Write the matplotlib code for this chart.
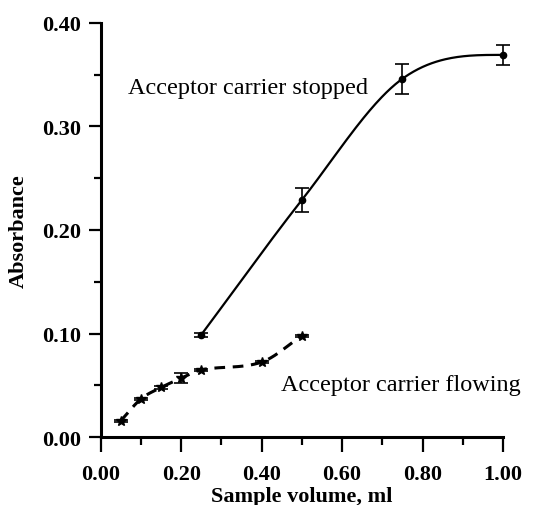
import numpy as np
import matplotlib
matplotlib.use('Agg')
from matplotlib import pyplot as plt
from matplotlib.ticker import MultipleLocator

# data
stop_x = [0.25, 0.50, 0.75, 1.00]
stop_y = [0.099, 0.229, 0.346, 0.369]
stop_err = [0.002, 0.012, 0.0145, 0.010]

flow_x = [0.05, 0.10, 0.15, 0.20, 0.25, 0.40, 0.50]
flow_y = [0.016, 0.037, 0.048, 0.057, 0.065, 0.0725, 0.098]
flow_err = [0.001, 0.001, 0.001, 0.0045, 0.001, 0.001, 0.001]

xticks = [0.0, 0.2, 0.4, 0.6, 0.8, 1.0]
yticks = [0.0, 0.1, 0.2, 0.3, 0.4]


def smooth(x, y, end_slope=None, n=200):
    # catmull-rom style hermite curve through the points (drawing only)
    x = np.asarray(x, float)
    y = np.asarray(y, float)
    h = np.diff(x)
    d = np.diff(y) / h
    m = np.zeros_like(y)
    m[0], m[-1] = d[0], d[-1]
    for i in range(1, len(x) - 1):
        m[i] = (y[i + 1] - y[i - 1]) / (x[i + 1] - x[i - 1])
    if end_slope is not None:
        m[-1] = end_slope
    xs = np.linspace(x[0], x[-1], n)
    k = np.clip(np.searchsorted(x, xs) - 1, 0, len(x) - 2)
    t = (xs - x[k]) / h[k]
    h00 = 2 * t**3 - 3 * t**2 + 1
    h10 = t**3 - 2 * t**2 + t
    h01 = -2 * t**3 + 3 * t**2
    h11 = t**3 - t**2
    ys = h00 * y[k] + h10 * h[k] * m[k] + h01 * y[k + 1] + h11 * h[k] * m[k + 1]
    return xs, ys


plt.rcParams['font.family'] = ['Liberation Serif', 'DejaVu Serif']

fig = plt.figure(figsize=(5.42, 5.06), dpi=100)
ax = fig.add_axes([0.186, 0.134, 0.742, 0.819])

sx, sy = smooth(stop_x, stop_y, end_slope=0.0)
ax.plot(sx, sy, color='black', lw=1.6, clip_on=False)
ax.errorbar(stop_x, stop_y, yerr=stop_err, fmt='o', color='black', ms=4.5,
            capsize=5, elinewidth=1.2, capthick=1.2, clip_on=False)

fx, fy = smooth(flow_x, flow_y)
ax.plot(fx, fy, color='black', lw=2.2, dashes=(3.5, 2.5), clip_on=False)
ax.errorbar(flow_x, flow_y, yerr=flow_err, fmt='*', color='black', ms=7,
            capsize=5, elinewidth=1.2, capthick=1.2, clip_on=False)

ax.text(0.067, 0.338, 'Acceptor carrier stopped', fontsize=17.5, va='center')
ax.text(0.448, 0.051, 'Acceptor carrier flowing', fontsize=17.5, va='center')

ax.set_xlim(0, 1.0)
ax.set_ylim(0, 0.40)
ax.set_xticks(xticks)
ax.set_yticks(yticks)
ax.set_xticklabels(['%.2f' % v for v in xticks], fontweight='bold', fontsize=16)
ax.set_yticklabels(['%.2f' % v for v in yticks], fontweight='bold', fontsize=16)
ax.xaxis.set_minor_locator(MultipleLocator(0.1))
ax.yaxis.set_minor_locator(MultipleLocator(0.05))
ax.tick_params(which='major', direction='out', length=9, width=1.6, pad=5)
ax.tick_params(which='minor', direction='out', length=5, width=1.6)
ax.tick_params(axis='x', which='major', length=11, pad=8)
ax.tick_params(axis='x', which='minor', length=6)

ax.set_xlabel('Sample volume, ml', fontweight='bold', fontsize=16, labelpad=2)
ax.set_ylabel('Absorbance', fontweight='bold', fontsize=16, labelpad=10)

for s in ['top', 'right']:
    ax.spines[s].set_visible(False)
for s in ['left', 'bottom']:
    ax.spines[s].set_linewidth(2.2)

fig.savefig('out.png', dpi=100)
